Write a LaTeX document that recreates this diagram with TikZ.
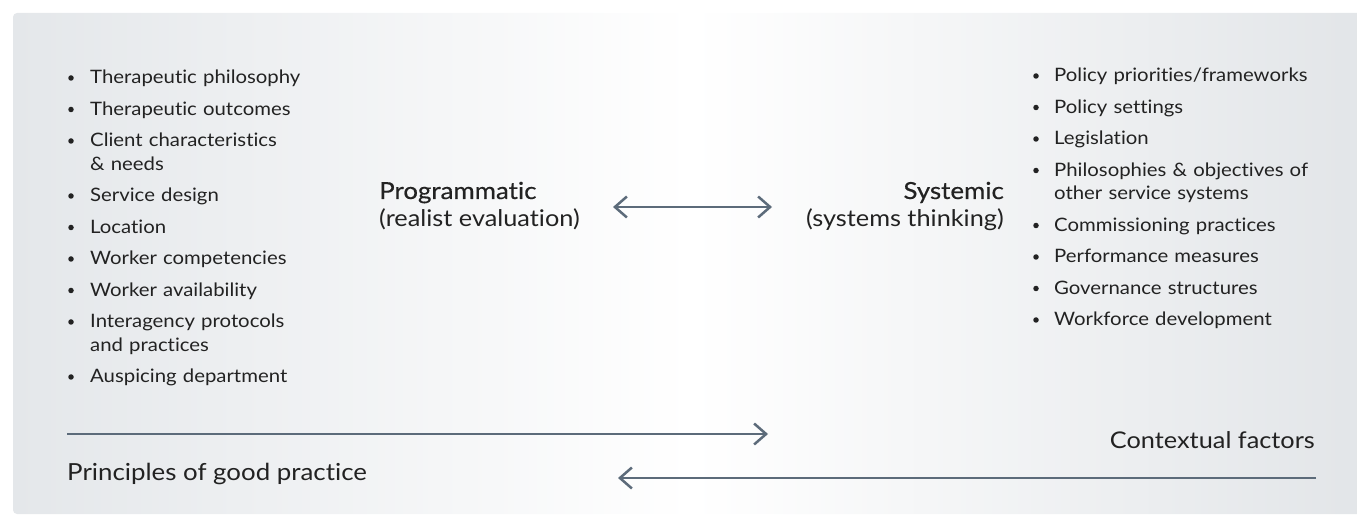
\documentclass[tikz,border=0pt]{standalone}
\usepackage{fontspec}
\setmainfont{Lato}[Ligatures=NoCommon, FakeStretch=1.1]
\newfontfamily\headfont{Lato}[Ligatures=NoCommon, FakeStretch=1.1, FakeBold=0.45]
\usetikzlibrary{arrows.meta}
\definecolor{ink}{HTML}{222222}
\definecolor{slate}{HTML}{5C6B7A}
\definecolor{panelL}{HTML}{E4E7EA}
\definecolor{panelR}{HTML}{E2E5E8}
\tikzset{
  item/.style={anchor=base west, inner sep=0pt, text width=300pt, align=left,
    font=\fontsize{18.5}{23.5}\selectfont, text=ink},
  bul/.style={circle, fill=ink, inner sep=0pt, minimum size=5.5pt},
  headL/.style={anchor=base west, inner sep=0pt, text=ink, font=\headfont\fontsize{23.5}{26}\selectfont},
  subL/.style={anchor=base west, inner sep=0pt, text=ink, font=\fontsize{23}{26}\selectfont},
  headR/.style={headL, anchor=base east},
  subR/.style={subL, anchor=base east},
  foot/.style={inner sep=0pt, text=ink, font=\fontsize{23}{26}\selectfont},
  barb/.tip={Straight Barb[length=12pt, width=21pt, line width=2.5pt]},
  link/.style={draw=slate, line width=2.5pt, -barb},
  twoway/.style={draw=slate, line width=2.5pt, barb-barb}
}
\begin{document}
\begin{tikzpicture}[x=1pt, y=-1pt]
\useasboundingbox (0,0) rectangle (1357,518);
% background panel with soft horizontal gradient
\shade[rounded corners=4pt, left color=panelL, right color=panelR, middle color=white]
  (13,13) rectangle (1370,514);

% programmatic factors
\foreach \n/\y/\t in {
  l1/84/{Therapeutic philosophy},
  l2/115.5/{Therapeutic outcomes},
  l3/147/{Client characteristics\\\& needs},
  l4/202/{Service design},
  l5/233.5/{Location},
  l6/265/{Worker competencies},
  l7/296.5/{Worker availability},
  l8/328/{Interagency protocols\\and practices},
  l9/383/{Auspicing department}}{
  \node[bul] (\n b) at (71,\y-6) {};
  \node[item] (\n) at (90,\y) {\t};
}

% systemic factors
\foreach \n/\y/\t in {
  r1/82/{Policy priorities/frameworks},
  r2/113.5/{Policy settings},
  r3/145/{Legislation},
  r4/176.5/{Philosophies \& objectives of\\other service systems},
  r5/231.5/{Commissioning practices},
  r6/263/{Performance measures},
  r7/294.5/{Governance structures},
  r8/326/{Workforce development}}{
  \node[bul] (\n b) at (1036,\y-6) {};
  \node[item] (\n) at (1054,\y) {\t};
}

% central headings
\node[headL] (prog) at (379,199) {Programmatic};
\node[subL] (progsub) at (379,227) {(realist evaluation)};
\node[headR] (sys) at (1004,199) {Systemic};
\node[subR] (syssub) at (1004,227) {(systems thinking)};

\coordinate (mL) at (613,207);
\coordinate (mR) at (772,207);
\draw[twoway] (mL) -- (mR);

% bottom flows
\node[foot, anchor=base west, font=\fontsize{23.5}{26}\selectfont] (good) at (67,480) {Principles of good practice};
\node[foot, anchor=base east] (ctx) at (1315,448) {Contextual factors};

\coordinate (uS) at (67,434);
\coordinate (uE) at (768,434);
\draw[link] (uS) -- (uE);

\coordinate (dS) at (1316,478);
\coordinate (dE) at (618,478);
\draw[link] (dS) -- (dE);
\end{tikzpicture}
\end{document}
